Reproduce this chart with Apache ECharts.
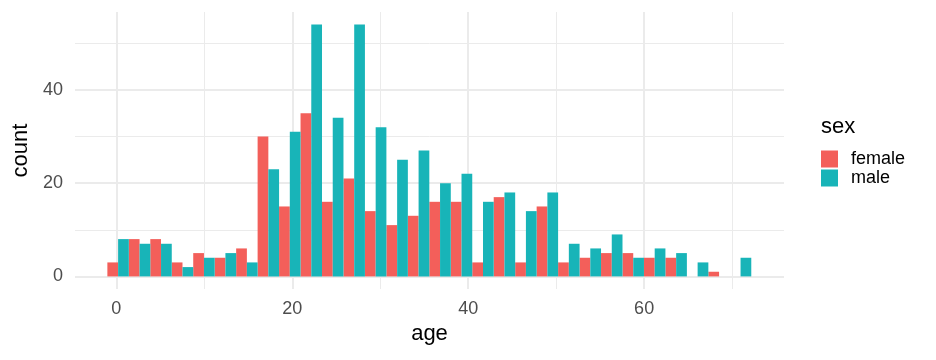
<!DOCTYPE html>
<html>
<head>
<meta charset="utf-8">
<script src="https://cdn.jsdelivr.net/npm/echarts@6/dist/echarts.min.js"></script>
<style>
html,body{margin:0;padding:0;background:#fff;}
#chart{width:936px;height:360px;}
</style>
</head>
<body>
<div id="chart"></div>
<script>
// Bin centers (age) of the histogram
const binCenters = [0.2, 2.64, 5.08, 7.52, 9.96, 12.4, 14.84, 17.28, 19.72, 22.16,
  24.6, 27.04, 29.48, 31.92, 34.36, 36.8, 39.24, 41.68, 44.12, 46.56,
  49.0, 51.44, 53.88, 56.32, 58.76, 61.2, 63.64, 66.08, 68.52, 70.96];
const femaleCounts = [3, 8, 8, 3, 5, 4, 6, 30, 15, 35, 16, 21, 14, 11, 13, 16, 16, 3, 17, 3,
  15, 3, 4, 5, 5, 4, 4, 0, 1, 0];
const maleCounts = [8, 7, 7, 2, 4, 5, 3, 23, 31, 54, 34, 54, 32, 25, 27, 20, 22, 16, 18, 14,
  18, 7, 6, 9, 4, 6, 5, 3, 0, 4];
const seriesNames = ['female', 'male'];
const legendTitle = 'sex';
const xTitle = 'age';
const yTitle = 'count';

const FONT = 'Liberation Sans, Arial, sans-serif';
const colors = ['#F35F5A', '#18B4B8'];

const chart = echarts.init(document.getElementById('chart'), null, {renderer: 'canvas'});
const gridLine = {color: '#EBEBEB', width: 2};
const minorLine = {color: '#EBEBEB', width: 1};

chart.setOption({
  animation: false,
  backgroundColor: '#fff',
  title: {
    text: legendTitle, left: 821, top: 116, padding: 0,
    textStyle: {fontFamily: FONT, fontSize: 22, fontWeight: 'normal', color: '#000'}
  },
  legend: {
    data: seriesNames, orient: 'vertical', left: 821, top: 150, padding: 0,
    itemWidth: 17, itemHeight: 17, itemGap: 1, icon: 'rect',
    textStyle: {fontFamily: FONT, fontSize: 18, color: '#000', padding: [0, 0, 0, 8]}
  },
  grid: {left: 75, right: 152, top: 12, bottom: 71},
  xAxis: {
    type: 'value', min: -4.7, max: 75.9, splitNumber: 4,
    name: xTitle, nameLocation: 'middle', nameGap: 34,
    nameTextStyle: {fontFamily: FONT, fontSize: 22, color: '#000'},
    axisLine: {show: false}, axisTick: {show: false},
    axisLabel: {fontFamily: FONT, fontSize: 18, color: '#4D4D4D', margin: 11,
      showMinLabel: false, showMaxLabel: false},
    splitLine: {show: true, lineStyle: gridLine, showMinLine: false, showMaxLine: false},
    minorTick: {show: false, splitNumber: 2},
    minorSplitLine: {show: true, lineStyle: minorLine}
  },
  yAxis: {
    type: 'value', min: -2.7, max: 56.7, splitNumber: 3,
    name: yTitle, nameLocation: 'middle', nameGap: 39, nameRotate: 90,
    nameTextStyle: {fontFamily: FONT, fontSize: 22, color: '#000'},
    axisLine: {show: false}, axisTick: {show: false},
    axisLabel: {fontFamily: FONT, fontSize: 18, color: '#4D4D4D', margin: 12,
      showMinLabel: false, showMaxLabel: false},
    splitLine: {show: true, lineStyle: gridLine, showMinLine: false, showMaxLine: false},
    minorTick: {show: false, splitNumber: 2},
    minorSplitLine: {show: true, lineStyle: minorLine}
  },
  series: [
    {
      name: seriesNames[0], type: 'bar', barGap: '0%', barCategoryGap: '0%',
      itemStyle: {color: colors[0]},
      data: binCenters.map((c, i) => [c, femaleCounts[i]])
    },
    {
      name: seriesNames[1], type: 'bar', barGap: '0%', barCategoryGap: '0%',
      itemStyle: {color: colors[1]},
      data: binCenters.map((c, i) => [c, maleCounts[i]])
    }
  ]
});
</script>
</body>
</html>
